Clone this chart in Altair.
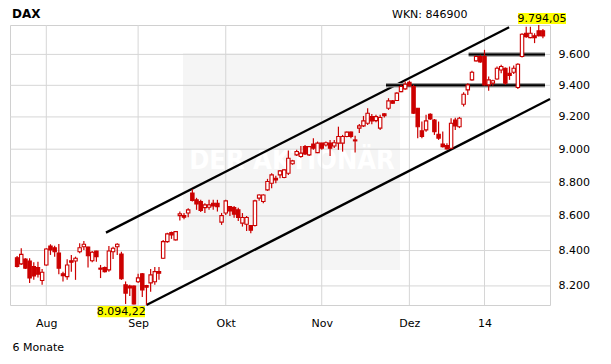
import altair as alt
import pandas as pd

# ---- data (DAX, 6 months, daily candles) ----
opens = [8359, 8324, 8352, 8340, 8309, 8303, 8230, 8318, 8426, 8416,
         8386, 8268, 8252, 8342, 8340, 8393, 8422, 8420, 8342, 8397,
         8300, 8303, 8290, 8393, 8422, 8380, 8206, 8200, 8200, 8223,
         8268, 8202, 8217, 8223, 8280, 8356, 8451, 8503, 8461, 8602,
         8602, 8617, 8735, 8695, 8685, 8649, 8651, 8675, 8675, 8564,
         8617, 8655, 8649, 8636, 8558, 8552, 8544, 8544, 8705, 8685,
         8754, 8794, 8824, 8844, 8828, 8854, 8911, 8965, 8955, 9016,
         8965, 9032, 8979, 9037, 9026, 9037, 9020, 9037, 9037, 9078,
         9105, 9057, 9130, 9144, 9160, 9202, 9177, 9130, 9219, 9254,
         9301, 9303, 9360, 9377, 9420, 9392, 9254, 9113, 9119, 9217,
         9181, 9092, 9031, 9022, 9006, 9181, 9139, 9280, 9371, 9435,
         9558, 9586, 9586, 9403, 9414, 9441, 9499, 9510, 9478, 9484,
         9386, 9586, 9739, 9710, 9723, 9755, 9755]
highs = [8369, 8413, 8356, 8356, 8333, 8336, 8295, 8413, 8436, 8428,
         8438, 8280, 8350, 8375, 8365, 8442, 8455, 8422, 8397, 8399,
         8318, 8309, 8426, 8422, 8442, 8393, 8225, 8206, 8203, 8268,
         8273, 8206, 8295, 8307, 8307, 8461, 8503, 8509, 8513, 8626,
         8617, 8646, 8758, 8707, 8695, 8675, 8695, 8695, 8695, 8618,
         8695, 8659, 8659, 8648, 8617, 8600, 8548, 8695, 8728, 8728,
         8820, 8854, 8838, 8874, 8878, 8992, 8935, 8996, 9020, 9026,
         9020, 9068, 9047, 9040, 9047, 9057, 9057, 9139, 9088, 9109,
         9109, 9082, 9156, 9206, 9254, 9219, 9213, 9213, 9223, 9318,
         9307, 9356, 9403, 9424, 9429, 9403, 9256, 9171, 9213, 9223,
         9187, 9171, 9109, 9037, 9192, 9194, 9200, 9356, 9414, 9493,
         9592, 9597, 9630, 9456, 9435, 9521, 9532, 9514, 9521, 9527,
         9543, 9739, 9783, 9783, 9739, 9794.05, 9768]
lows = [8303, 8318, 8295, 8216, 8234, 8247, 8206, 8314, 8375, 8365,
        8266, 8225, 8234, 8280, 8234, 8384, 8403, 8303, 8333, 8336,
        8244, 8275, 8280, 8352, 8375, 8234, 8100, 8144, 8097, 8217,
        8139, 8094.22, 8167, 8206, 8234, 8352, 8444, 8467, 8457, 8573,
        8581, 8593, 8685, 8636, 8624, 8618, 8636, 8636, 8626, 8548,
        8606, 8600, 8589, 8571, 8538, 8513, 8500, 8538, 8689, 8675,
        8748, 8764, 8794, 8824, 8824, 8844, 8905, 8959, 8947, 8965,
        8959, 8996, 8976, 8996, 9016, 8959, 9008, 8996, 8985, 9074,
        9068, 8979, 9099, 9137, 9150, 9154, 9167, 9119, 9196, 9244,
        9282, 9301, 9356, 9371, 9392, 9219, 9068, 9068, 9108, 9181,
        9088, 9057, 9010, 8998, 9002, 9119, 9130, 9265, 9339, 9429,
        9553, 9545, 9399, 9365, 9397, 9435, 9478, 9403, 9435, 9472,
        9377, 9579, 9710, 9706, 9674, 9717, 9706]
closes = [8309, 8378, 8300, 8244, 8256, 8266, 8277, 8409, 8403, 8393,
          8300, 8258, 8318, 8333, 8356, 8416, 8436, 8370, 8390, 8365,
          8294, 8280, 8397, 8413, 8436, 8240, 8160, 8189, 8100, 8245,
          8178, 8193, 8262, 8280, 8271, 8451, 8496, 8490, 8509, 8612,
          8593, 8636, 8691, 8670, 8632, 8665, 8665, 8659, 8655, 8602,
          8689, 8630, 8611, 8591, 8591, 8591, 8517, 8689, 8724, 8724,
          8804, 8844, 8814, 8868, 8874, 8945, 8929, 8986, 8976, 8971,
          9016, 9006, 9037, 9006, 9040, 9006, 9040, 9078, 9078, 9105,
          9078, 9051, 9144, 9175, 9223, 9175, 9202, 9196, 9208, 9301,
          9286, 9350, 9392, 9407, 9398, 9223, 9139, 9078, 9175, 9187,
          9108, 9068, 9016, 9002, 9160, 9144, 9192, 9343, 9403, 9484,
          9586, 9551, 9403, 9435, 9429, 9510, 9521, 9414, 9463, 9510,
          9536, 9733, 9717, 9739, 9710, 9723, 9721]

price_ticks = [8200, 8400, 8600, 8800, 9000, 9200, 9400, 9600]
month_index = [7, 29, 50, 73, 94, 112]
month_names = ["Aug", "Sep", "Okt", "Nov", "Dez", "14"]

# trend channel (index, price) and horizontal resistance lines
channel_names = ["oben", "oben", "unten", "unten"]
channel_index = [21.3, 117.9, 31.0, 127.7]
channel_price = [8503, 9779, 8094.22, 9313]
level_names = ["9600", "9600", "9400", "9400"]
level_index = [108.2, 126.5, 88.4, 126.5]
level_price = [9600, 9600, 9400, 9400]

RED = "#cc0000"
FONT = "DejaVu Sans"

n = len(opens)
df = pd.DataFrame({"i": list(range(n)), "open": opens, "high": highs,
                   "low": lows, "close": closes})

lo, hi = min(lows), max(highs)
xscale = alt.Scale(domain=[-0.5, n - 0.5], nice=False, zero=False)
yscale = alt.Scale(type="log", domain=[lo, hi], nice=False, zero=False)


def de(v):
    s = f"{v:,.2f}"
    return s.replace(",", "X").replace(".", ",").replace("X", ".")


label_expr_x = ""
for idx, name in zip(month_index, month_names):
    label_expr_x += f"datum.value == {idx} ? '{name}' : "
label_expr_x += "''"

xaxis = alt.Axis(values=month_index, labelExpr=label_expr_x, grid=False,
                 ticks=False, domain=False, labelPadding=12, labelFontSize=11,
                 labelFont=FONT, labelColor="#000000", title=None)
yaxis = alt.Axis(orient="right", values=price_ticks,
                 labelExpr="replace(format(datum.value, ','), ',', '.')",
                 grid=False, ticks=False, domain=False, labelPadding=8,
                 labelFontSize=11, labelFont=FONT, labelColor="#000000",
                 title=None)


def X(field):
    return alt.X(field, scale=xscale, axis=xaxis, title=None)


def Y(field):
    return alt.Y(field, scale=yscale, axis=yaxis, title=None)


one = pd.DataFrame({"a": [0]})

# watermark
wm_rect = alt.Chart(one).mark_rect(color="#f5f5f5").encode(
    x=alt.value(173), x2=alt.value(390), y=alt.value(28), y2=alt.value(245))
wm_text = alt.Chart(one).mark_text(
    text="DER AKTIONÄR", font="DejaVu Sans Condensed", fontSize=27,
    fontWeight="bold", color="#ffffff", align="center", baseline="middle"
).encode(x=alt.value(282), y=alt.value(136))

# grid
hgrid = alt.Chart(pd.DataFrame({"p": price_ticks})).mark_rule(
    color="#d6d6d6", strokeWidth=1).encode(y=Y("p:Q"))
vgrid = alt.Chart(pd.DataFrame({"m": month_index})).mark_rule(
    color="#d6d6d6", strokeWidth=1).encode(x=X("m:Q"))

# channel lines
ch_df = pd.DataFrame({"name": channel_names, "i": channel_index,
                      "price": channel_price})
channel = alt.Chart(ch_df).mark_line(color="#000000", strokeWidth=2.3,
                                     clip=False).encode(
    x=X("i:Q"), y=Y("price:Q"), detail="name:N")

lv_df = pd.DataFrame({"name": level_names, "i": level_index,
                      "price": level_price})
level_halo = alt.Chart(lv_df).mark_line(color="#9a9a9a", strokeWidth=4.5).encode(
    x=X("i:Q"), y=Y("price:Q"), detail="name:N")
level = alt.Chart(lv_df).mark_line(color="#000000", strokeWidth=2).encode(
    x=X("i:Q"), y=Y("price:Q"), detail="name:N")

# candles
wicks = alt.Chart(df).mark_rule(color=RED, strokeWidth=1.2).encode(
    x=X("i:Q"), y=Y("low:Q"), y2="high:Q")
bodies = alt.Chart(df).mark_bar(size=3.4, stroke=RED, strokeWidth=1.1).encode(
    x=X("i:Q"), y=Y("open:Q"), y2="close:Q",
    fill=alt.condition("datum.close >= datum.open", alt.value("#ffffff"),
                       alt.value(RED)))

# annotations for extremes
hi_box = alt.Chart(one).mark_rect(color="#ffff00").encode(
    x=alt.value(508), x2=alt.value(556), y=alt.value(-12), y2=alt.value(-1))
hi_txt = alt.Chart(one).mark_text(
    text=de(hi), font=FONT, fontSize=11, color="#000000", align="center",
    baseline="middle").encode(x=alt.value(532), y=alt.value(-6))
lo_box = alt.Chart(one).mark_rect(color="#ffff00").encode(
    x=alt.value(87.7), x2=alt.value(135), y=alt.value(281), y2=alt.value(292.3))
lo_txt = alt.Chart(one).mark_text(
    text=de(lo), font=FONT, fontSize=11, color="#000000", align="center",
    baseline="middle").encode(x=alt.value(111.3), y=alt.value(287))

title_txt = alt.Chart(one).mark_text(
    text="DAX", font=FONT, fontSize=12, fontWeight="bold", color="#000000",
    align="left", baseline="alphabetic").encode(x=alt.value(2), y=alt.value(-7))
wkn_txt = alt.Chart(one).mark_text(
    text="WKN: 846900", font=FONT, fontSize=11, color="#000000",
    align="left", baseline="alphabetic").encode(x=alt.value(382), y=alt.value(-7))
period_txt = alt.Chart(one).mark_text(
    text="6 Monate", font=FONT, fontSize=11, color="#000000",
    align="left", baseline="alphabetic").encode(x=alt.value(2.5), y=alt.value(326))

chart = alt.layer(
    wm_rect, wm_text, hgrid, vgrid, channel, level_halo, level,
    wicks, bodies, hi_box, hi_txt, lo_box, lo_txt,
    title_txt, wkn_txt, period_txt
).properties(
    width=540, height=280,
    autosize=alt.AutoSizeParams(type="none"),
    padding={"left": 2, "top": 17, "right": 53, "bottom": 51},
    background="#ffffff"
).configure_view(stroke="#d0d0d0", strokeWidth=1)

chart.save("out.html", embed_options={"renderer": "svg", "actions": False})
